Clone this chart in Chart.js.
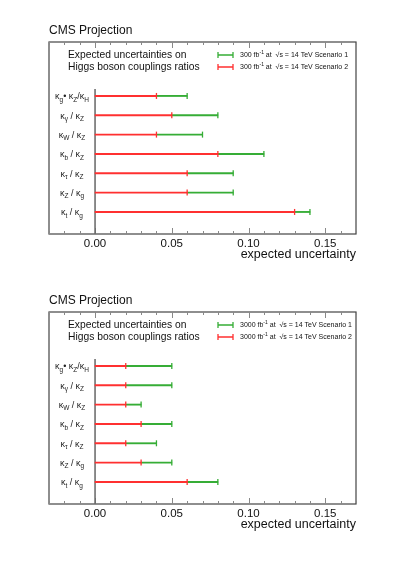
<!DOCTYPE html>
<html>
<head>
<meta charset="utf-8">
<script src="https://cdn.jsdelivr.net/npm/chart.js@4"></script>
<style>
  body { margin: 0; background: #fff; }
  .panel { position: absolute; left: 0; width: 399px; height: 270px; }
</style>
</head>
<body>
<div class="panel" style="top:0"><canvas id="chart-300"></canvas></div>
<div class="panel" style="top:270px"><canvas id="chart-3000"></canvas></div>
<script>
// rows top to bottom, "_x" = subscript x
const categories = ['κ_g• κ_Z/κ_H', 'κ_γ / κ_Z', 'κ_W / κ_Z', 'κ_b / κ_Z', 'κ_τ / κ_Z', 'κ_Z / κ_g', 'κ_t / κ_g'];
const scenario1_300 = [0.06, 0.08, 0.07, 0.11, 0.09, 0.09, 0.14];
const scenario2_300 = [0.04, 0.05, 0.04, 0.08, 0.06, 0.06, 0.13];
const scenario1_3000 = [0.05, 0.05, 0.03, 0.05, 0.04, 0.05, 0.08];
const scenario2_3000 = [0.02, 0.02, 0.02, 0.03, 0.02, 0.03, 0.06];
const xTicks = [0, 0.05, 0.10, 0.15];

const GREEN = '#36ad36';
const RED = '#ff3030';
const FONT = "'Liberation Sans', Arial, sans-serif";

function rowPos(i) {
    return categories.length - 1 - i;
}

function drawLabel(ctx, text, cx, cy) {
    // split into [string, isSub] pieces
    const parts = [];
    for (let i = 0; i < text.length; i++) {
        if (text[i] === '_') {
            parts.push([text[i + 1], true]);
            i++;
        } else {
            parts.push([text[i], false]);
        }
    }
    const mainFont = '9px ' + FONT;
    const subFont = '6.5px ' + FONT;
    let w = 0;
    parts.forEach(([s, sub]) => {
        ctx.font = sub ? subFont : mainFont;
        w += ctx.measureText(s).width;
    });
    let x = cx - w / 2;
    ctx.textBaseline = 'middle';
    ctx.textAlign = 'left';
    parts.forEach(([s, sub]) => {
        ctx.font = sub ? subFont : mainFont;
        ctx.fillText(s, x, sub ? cy + 3 : cy);
        x += ctx.measureText(s).width;
    });
}

const decorPlugin = {
    id: 'decor',
    beforeDatasetsDraw(chart) {
        const ctx = chart.ctx;
        const area = chart.chartArea;
        const xs = chart.scales.x;
        const ys = chart.scales.y;
        ctx.save();
        // frame
        ctx.strokeStyle = '#444';
        ctx.lineWidth = 1.2;
        ctx.strokeRect(area.left, area.top, area.right - area.left, area.bottom - area.top);
        // tick marks inside frame, top and bottom
        ctx.strokeStyle = '#888';
        ctx.lineWidth = 1;
        for (let k = -3; k <= 17; k++) {
            const px = Math.round(xs.getPixelForValue(k / 100)) + 0.5;
            const len = k % 5 === 0 ? 6 : 3;
            ctx.beginPath();
            ctx.moveTo(px, area.bottom);
            ctx.lineTo(px, area.bottom - len);
            ctx.moveTo(px, area.top);
            ctx.lineTo(px, area.top + len);
            ctx.stroke();
        }
        // zero line
        const x0 = xs.getPixelForValue(0);
        ctx.strokeStyle = '#666';
        ctx.lineWidth = 1.5;
        ctx.beginPath();
        ctx.moveTo(x0, area.top + 47);
        ctx.lineTo(x0, area.bottom);
        ctx.stroke();
        // row labels
        ctx.fillStyle = '#222';
        const cx = (area.left + x0) / 2;
        categories.forEach((c, i) => {
            drawLabel(ctx, c, cx, ys.getPixelForValue(rowPos(i)) + 1);
        });
        // description
        ctx.fillStyle = '#111';
        ctx.font = '10.3px ' + FONT;
        ctx.textAlign = 'left';
        ctx.textBaseline = 'middle';
        ctx.fillText('Expected uncertainties on', area.left + 19, area.top + 13);
        ctx.fillText('Higgs boson couplings ratios', area.left + 19, area.top + 25);
        // legend entries
        const lumi = chart.options.plugins.decor.lumi;
        [[GREEN, 'Scenario 1', 13], [RED, 'Scenario 2', 25]].forEach(([col, scen, dy]) => {
            const y = area.top + dy;
            const lx = area.left + 169;
            ctx.strokeStyle = col;
            ctx.lineWidth = 1.3;
            ctx.beginPath();
            ctx.moveTo(lx, y);
            ctx.lineTo(lx + 15, y);
            ctx.moveTo(lx, y - 3);
            ctx.lineTo(lx, y + 3);
            ctx.moveTo(lx + 15, y - 3);
            ctx.lineTo(lx + 15, y + 3);
            ctx.stroke();
            ctx.fillStyle = '#111';
            let tx = lx + 22;
            ctx.font = '7px ' + FONT;
            const a = lumi + ' fb';
            ctx.fillText(a, tx, y);
            tx += ctx.measureText(a).width;
            ctx.font = '5px ' + FONT;
            ctx.fillText('-1', tx, y - 2.5);
            tx += ctx.measureText('-1').width;
            ctx.font = '7px ' + FONT;
            const b = ' at  √s = 14 TeV ' + scen;
            ctx.fillText(b, tx, y);
        });
        ctx.restore();
    }
};

function makeChart(id, lumi, s1, s2) {
    const ctx = document.getElementById(id).getContext('2d');
    const toPoints = vals => vals.map((v, i) => ({ x: v, y: rowPos(i) }));
    // scenario 1 segment continues from the end of scenario 2
    const ext = s1.map((v, i) => ({ x: [s2[i], v], y: rowPos(i) }));
    return new Chart(ctx, {
        type: 'bar',
        data: {
            datasets: [
                {
                    type: 'line',
                    label: 'caps 2',
                    data: toPoints(s2),
                    showLine: false,
                    pointStyle: 'line',
                    rotation: 90,
                    pointRadius: 3,
                    borderColor: RED,
                    borderWidth: 1.3,
                    order: 0
                },
                {
                    type: 'line',
                    label: 'caps 1',
                    data: toPoints(s1),
                    showLine: false,
                    pointStyle: 'line',
                    rotation: 90,
                    pointRadius: 3,
                    borderColor: GREEN,
                    borderWidth: 1.3,
                    order: 1
                },
                {
                    label: 'Scenario 2',
                    data: toPoints(s2),
                    backgroundColor: RED,
                    barThickness: 1.2,
                    grouped: false,
                    order: 2
                },
                {
                    label: 'Scenario 1',
                    data: ext,
                    backgroundColor: GREEN,
                    barThickness: 1.2,
                    grouped: false,
                    order: 3
                }
            ]
        },
        options: {
            indexAxis: 'y',
            responsive: true,
            maintainAspectRatio: false,
            animation: false,
            layout: {
                padding: { left: 49, right: 43, top: 23.6, bottom: 7.5 }
            },
            scales: {
                x: {
                    type: 'linear',
                    position: 'bottom',
                    min: -0.03,
                    max: 0.17,
                    grid: { display: false, drawTicks: false },
                    border: { display: false },
                    afterBuildTicks: s => { s.ticks = xTicks.map(v => ({ value: v })); },
                    ticks: {
                        color: '#111',
                        padding: 3,
                        font: { family: FONT, size: 11.5 },
                        callback: v => v.toFixed(2)
                    },
                    title: {
                        display: true,
                        text: 'expected uncertainty',
                        align: 'end',
                        color: '#111',
                        font: { family: FONT, size: 12.5 },
                        padding: { top: 0, bottom: 0 }
                    },
                    afterFit: s => { s.height = 28.5; }
                },
                y: {
                    type: 'linear',
                    display: false,
                    offset: false,
                    min: -1.14,
                    max: 8.79
                }
            },
            plugins: {
                legend: { display: false },
                tooltip: { enabled: false },
                title: {
                    display: true,
                    text: 'CMS Projection',
                    align: 'start',
                    color: '#111',
                    font: { family: FONT, size: 12, weight: 'normal' },
                    padding: { top: 0, bottom: 4 }
                },
                decor: { lumi: lumi }
            }
        },
        plugins: [decorPlugin]
    });
}

makeChart('chart-300', '300', scenario1_300, scenario2_300);
makeChart('chart-3000', '3000', scenario1_3000, scenario2_3000);
</script>
</body>
</html>
